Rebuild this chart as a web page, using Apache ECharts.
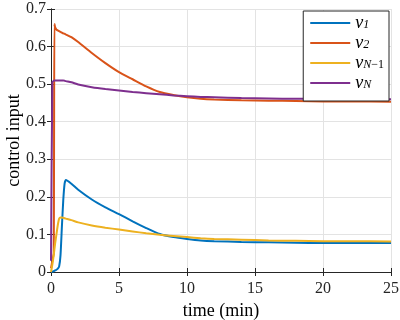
<!DOCTYPE html>
<html>
<head>
<meta charset="utf-8">
<script src="https://cdn.jsdelivr.net/npm/echarts@6/dist/echarts.min.js"></script>
<style>
html, body { margin: 0; padding: 0; background: #fff; }
#chart { width: 400px; height: 320px; }
</style>
</head>
<body>
<div id="chart"></div>
<script>
// 时间 (min)
var time = [0, 0.1, 0.2, 0.25, 0.3, 0.4, 0.5, 0.6, 0.7, 0.8, 0.9, 1.0, 1.1, 1.5, 2, 3, 4, 5, 6, 7, 8, 9, 10, 11, 12, 14, 16, 18, 20, 22, 25];
// 各控制输入
var nu1 = [0, 0.001, 0.002, 0.003, 0.004, 0.006, 0.009, 0.015, 0.045, 0.12, 0.19, 0.235, 0.245, 0.235, 0.219, 0.193, 0.172, 0.154, 0.135, 0.117, 0.101, 0.093, 0.088, 0.084, 0.082, 0.080, 0.079, 0.078, 0.077, 0.077, 0.077];
var nu2 = [0.01, 0.03, 0.05, 0.66, 0.652, 0.645, 0.643, 0.641, 0.639, 0.637, 0.635, 0.634, 0.632, 0.625, 0.612, 0.583, 0.556, 0.532, 0.513, 0.494, 0.479, 0.471, 0.465, 0.461, 0.459, 0.457, 0.456, 0.455, 0.454, 0.454, 0.453];
var nuN1 = [0, 0.02, 0.045, 0.06, 0.075, 0.1, 0.125, 0.142, 0.145, 0.145, 0.144, 0.143, 0.142, 0.138, 0.132, 0.124, 0.118, 0.113, 0.108, 0.103, 0.099, 0.096, 0.093, 0.090, 0.088, 0.086, 0.084, 0.083, 0.082, 0.082, 0.081];
var nuN = [0.03, 0.505, 0.509, 0.51, 0.51, 0.51, 0.51, 0.51, 0.51, 0.51, 0.51, 0.509, 0.508, 0.505, 0.499, 0.492, 0.487, 0.483, 0.479, 0.476, 0.473, 0.470, 0.468, 0.466, 0.465, 0.463, 0.462, 0.461, 0.461, 0.460, 0.460];
var names = ['nu1', 'nu2', 'nuN1', 'nuN'];
var colors = ['#0072BD', '#D95319', '#EDB120', '#7E2F8E'];

function pairs(v) {
    return time.map(function (t, i) { return [t, v[i]]; });
}

var serif = 'Liberation Serif';
var axisCol = '#262626';
var myChart = echarts.init(document.getElementById('chart'));
var option = {
    animation: false,
    color: colors,
    grid: { left: 51, right: 9, top: 9, bottom: 48, outerBoundsMode: 'none' },
    legend: {
        right: 11,
        top: 11,
        orient: 'vertical',
        backgroundColor: '#fff',
        borderColor: axisCol,
        borderWidth: 1,
        borderRadius: 0,
        padding: [3, 5, 9, 7],
        itemWidth: 40,
        itemHeight: 2,
        itemGap: 2,
        icon: 'rect',
        data: names,
        formatter: function (n) {
            if (n === 'nu1') return '{i|ν}{s|1}';
            if (n === 'nu2') return '{i|ν}{s|2}';
            if (n === 'nuN1') return '{i|ν}{s|N}{t|−1}';
            return '{i|ν}{s|N}';
        },
        textStyle: {
            color: '#000',
            rich: {
                i: { fontFamily: serif, fontStyle: 'italic', fontSize: 18, lineHeight: 16 },
                s: { fontFamily: serif, fontStyle: 'italic', fontSize: 12, lineHeight: 9, verticalAlign: 'bottom' },
                t: { fontFamily: serif, fontSize: 12, lineHeight: 9, verticalAlign: 'bottom' }
            }
        }
    },
    xAxis: [{
        type: 'value',
        min: 0, max: 25, interval: 5,
        name: 'time (min)',
        nameLocation: 'middle',
        nameGap: 25,
        nameTextStyle: { fontFamily: serif, fontSize: 18, color: '#000' },
        axisLine: { show: true, lineStyle: { color: axisCol } },
        axisTick: { inside: true, length: 4, lineStyle: { color: axisCol } },
        axisLabel: { fontFamily: serif, fontSize: 16, color: '#262626', margin: 9 },
        splitLine: { show: true, lineStyle: { color: '#e3e3e3' } }
    }, {
        type: 'value', position: 'top',
        min: 0, max: 25, interval: 5,
        axisLine: { show: true, lineStyle: { color: axisCol } },
        axisTick: { inside: true, length: 4, lineStyle: { color: axisCol } },
        axisLabel: { show: false },
        splitLine: { show: false }
    }],
    yAxis: [{
        type: 'value',
        min: 0, max: 0.7, interval: 0.1,
        name: 'control input',
        nameLocation: 'middle',
        nameGap: 28,
        nameMoveOverlap: false,
        nameTextStyle: { fontFamily: serif, fontSize: 18, color: '#000' },
        axisLine: { show: true, lineStyle: { color: axisCol } },
        axisTick: { inside: true, length: 4, lineStyle: { color: axisCol } },
        axisLabel: { fontFamily: serif, fontSize: 16, color: '#262626', margin: 5 },
        splitLine: { show: true, lineStyle: { color: '#e3e3e3' } }
    }, {
        type: 'value', position: 'right',
        min: 0, max: 0.7, interval: 0.1,
        axisLine: { show: true, lineStyle: { color: axisCol } },
        axisTick: { inside: true, length: 4, lineStyle: { color: axisCol } },
        axisLabel: { show: false },
        splitLine: { show: false }
    }],
    series: [nu1, nu2, nuN1, nuN].map(function (v, i) {
        return {
            name: names[i],
            type: 'line',
            data: pairs(v),
            showSymbol: false,
            smooth: 0.2,
            lineStyle: { width: 2, color: colors[i] }
        };
    })
};
myChart.setOption(option);
</script>
</body>
</html>
